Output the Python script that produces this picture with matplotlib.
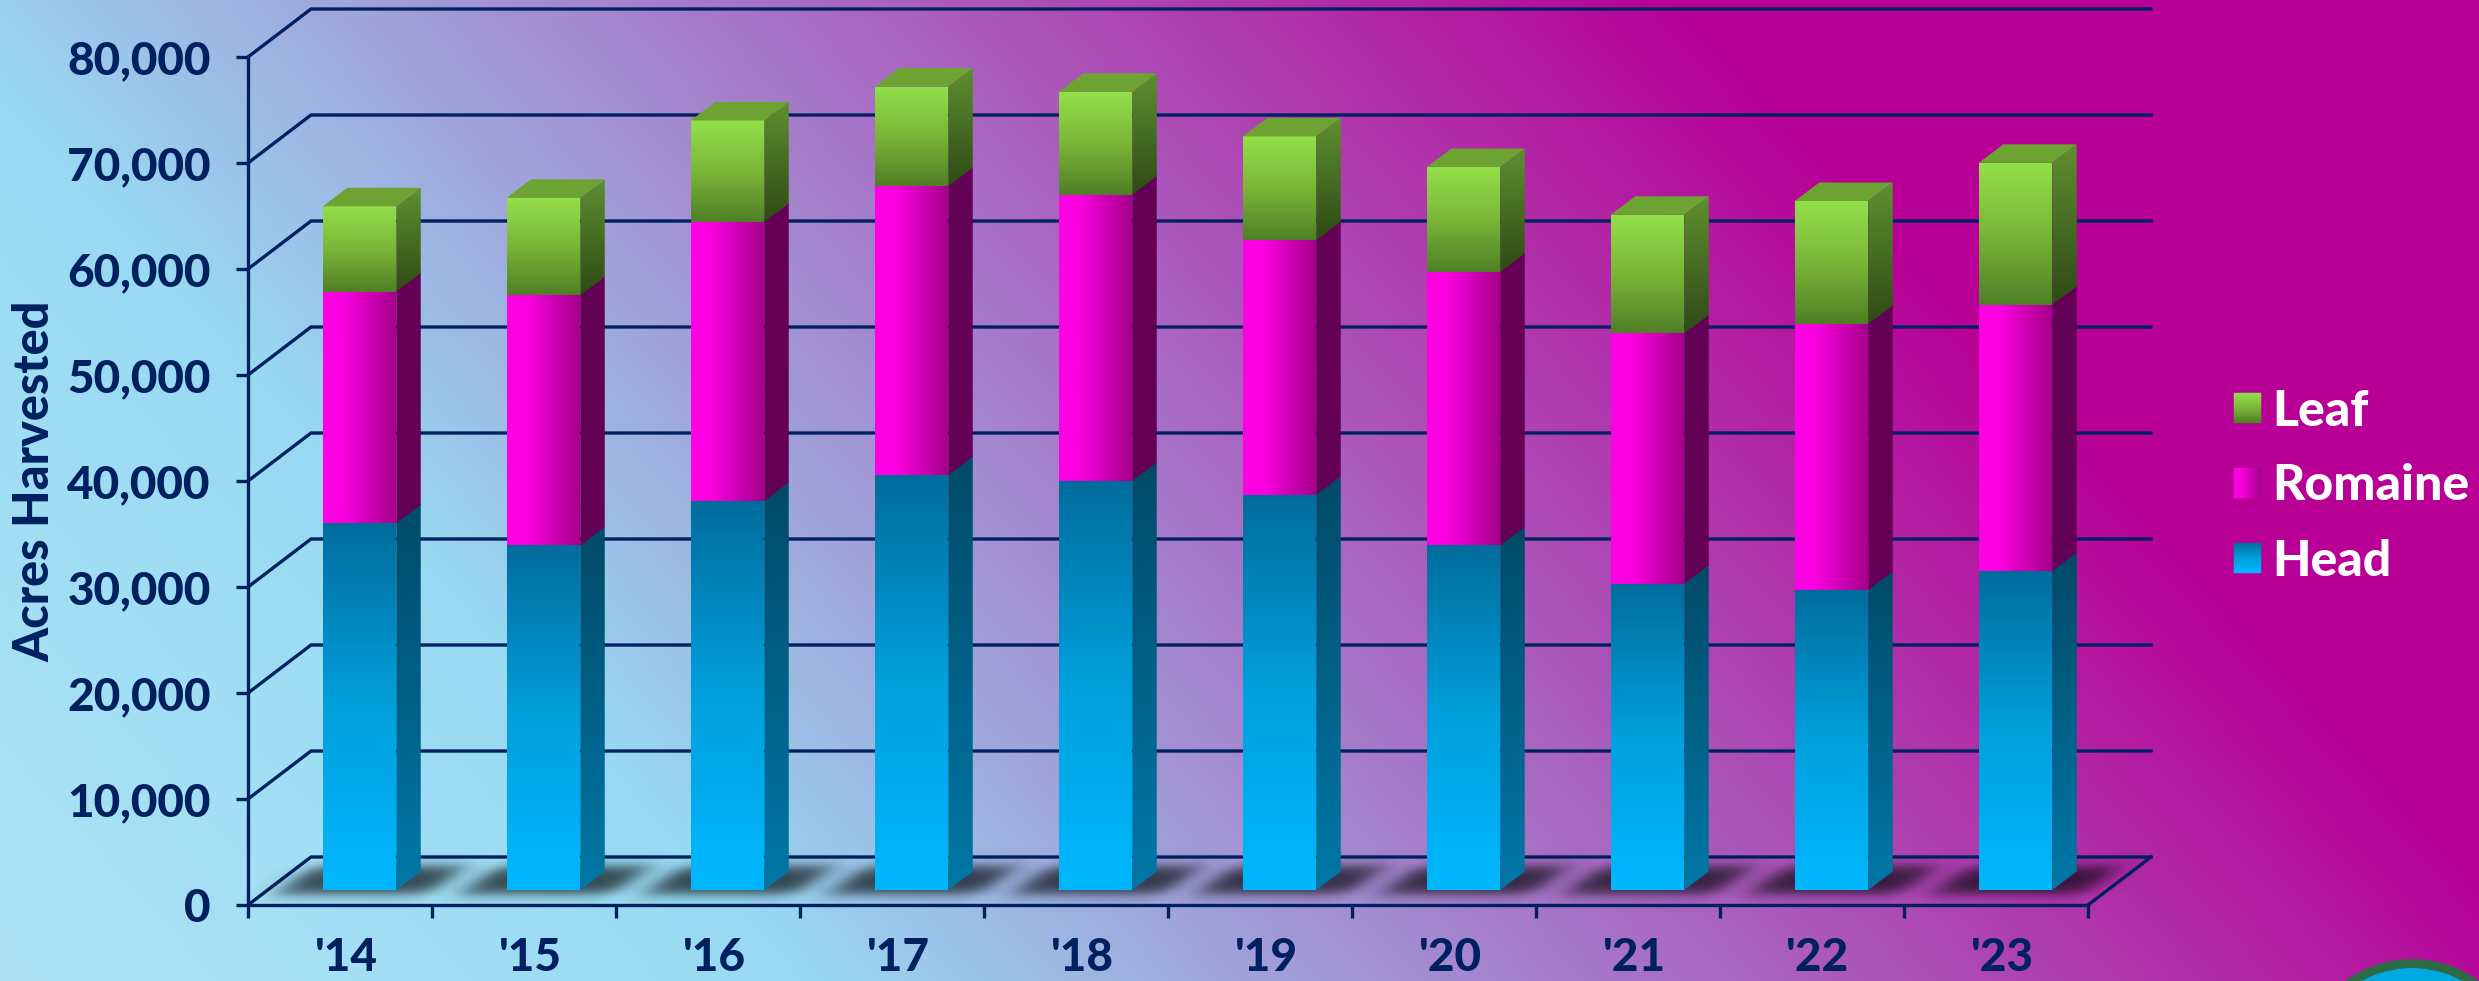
#!/usr/bin/env python3

import numpy as np
import matplotlib
matplotlib.use("Agg")
import matplotlib.pyplot as plt
from matplotlib.colors import LinearSegmentedColormap, to_rgb
from matplotlib.legend_handler import HandlerBase
from matplotlib.patches import Circle, Patch, Polygon, Rectangle
from matplotlib.ticker import FuncFormatter, MultipleLocator
from matplotlib.transforms import ScaledTranslation

plt.rcParams['font.family'] = ['Lato', 'DejaVu Sans']

years = ["'14", "'15", "'16", "'17", "'18", "'19", "'20", "'21", "'22", "'23"]
head = [34600, 32500, 36700, 39150, 38600, 37300, 32500, 28900, 28300, 30100]
romaine = [21850, 23600, 26300, 27250, 27000, 24000, 25800, 23600, 25100, 25100]
leaf = [8050, 9200, 9600, 9400, 9700, 9800, 9900, 11200, 11600, 13400]

NAVY = '#002060'
W, H = 2479, 981

# pixels per data unit, the chart is a fake 3D drawing
PX_X = 184.0
PX_Y = 106.0 / 10000
WALL_DX, WALL_DY = 63 / PX_X, 48 / PX_Y
BAR_X, BAR_Y = 19.5 / PX_X, 15 / PX_Y
BAR_W = 73.5 / PX_X
SIDE_DX, SIDE_DY = 24.5 / PX_X, 18.5 / PX_Y


def ramp(*stops):
    return LinearSegmentedColormap.from_list('r', list(stops))


head_front = ramp((0, '#00B8FF'), (0.5, '#00A0DC'), (1, '#006C9C'))
head_side = ramp((0, '#0078A8'), (1, '#004A68'))
romaine_front = ramp((0, '#FF00E6'), (0.3, '#F800DE'), (1, '#A4008A'))
romaine_side = ramp((0, '#640055'), (1, '#640055'))
leaf_front = ramp((0, '#4F7F25'), (0.5, '#7AB638'), (1, '#93E04A'))
leaf_side = ramp((0, '#2F4A14'), (1, '#5E9030'))

fig = plt.figure(figsize=(W / 100, H / 100), dpi=100)

# background
bg = fig.add_axes([0, 0, 1, 1], zorder=-1)
yy, xx = np.mgrid[0:H, 0:W]
t = 1.1 * xx - yy
stops = [-981, -100, 1850, 4000]
cols = np.array([to_rgb(c) for c in ['#AEE3F6', '#98DAF2', '#B80096', '#B80096']])
rgb = np.dstack([np.interp(t, stops, cols[:, i]) for i in range(3)])
bg.imshow(rgb, extent=(0, W, H, 0), aspect='auto')
bg.add_patch(Circle((2412, 1072), 108.5, fc='#00A8E0', ec='#2C6B45', lw=6.5))
bg.set_xlim(0, W)
bg.set_ylim(H, 0)
bg.axis('off')

ax = fig.add_axes([248 / W, (H - 905) / H, 1840 / W, 848 / H])
ax.patch.set_alpha(0)


def face(verts, cmap, horizontal=False, z=5):
    verts = np.array(verts)
    x0, y0 = verts.min(axis=0)
    x1, y1 = verts.max(axis=0)
    g = np.linspace(0, 1, 256)
    g = g[None, :] if horizontal else g[:, None]
    im = ax.imshow(g, cmap=cmap, vmin=0, vmax=1, origin='lower', aspect='auto',
                   extent=(x0, x1, y0, y1), zorder=z, interpolation='bilinear')
    poly = Polygon(verts, closed=True, transform=ax.transData)
    im.set_clip_path(poly)


def shadow(xc):
    # soft blob on the floor under a bar
    nx, ny = 340, 90
    px = np.linspace(-170, 170, nx)
    py = np.linspace(-45, 45, ny)
    gx, gy = np.meshgrid(px, py)
    u = gx - 1.31 * gy
    a = 0.25 * (1 - np.tanh((np.abs(u) - 76) / 15)) * (1 - np.tanh((np.abs(gy) - 14) / 7))
    img = np.zeros((ny, nx, 4))
    img[..., :3] = (0.02, 0.03, 0.04)
    img[..., 3] = 0.7 * a
    yc = 25 / PX_Y
    ax.imshow(img, origin='lower', aspect='auto', zorder=2, clip_on=False,
              extent=(xc + (11 - 170) / PX_X, xc + (11 + 170) / PX_X,
                      yc - 45 / PX_Y, yc + 45 / PX_Y))


# back wall, side wall and floor
for v in range(0, 90000, 10000):
    ax.plot([0, WALL_DX, 10 + WALL_DX], [v, v + WALL_DY, v + WALL_DY], color=NAVY,
            lw=2.4, clip_on=False, zorder=1, solid_joinstyle='miter')
ax.plot([10, 10 + WALL_DX], [0, WALL_DY], color=NAVY, lw=2.4, clip_on=False, zorder=1)

for i in range(len(years)):
    x0 = i + 0.5 - BAR_W / 2 + BAR_X
    x1 = x0 + BAR_W
    shadow(i + 0.5 + BAR_X)
    b0 = BAR_Y
    b1 = b0 + head[i]
    b2 = b1 + romaine[i]
    b3 = b2 + leaf[i]
    # lower segments run a pixel under the next one, that hides the seam
    lap = 1 / PX_Y
    segs = [(b0, b1 + lap, head_front, head_side, False),
            (b1, b2 + lap, romaine_front, romaine_side, True),
            (b2, b3, leaf_front, leaf_side, False)]
    for lo, hi, front, side, horiz in segs:
        face([(x0, lo), (x1, lo), (x1, hi), (x0, hi)], front, horizontal=horiz)
        face([(x1, lo), (x1 + SIDE_DX, lo + SIDE_DY), (x1 + SIDE_DX, hi + SIDE_DY), (x1, hi)], side)
    ax.add_patch(Polygon([(x0, b3), (x1, b3), (x1 + SIDE_DX, b3 + SIDE_DY), (x0 + SIDE_DX, b3 + SIDE_DY)],
                         closed=True, fc='#6DA332', ec='none', zorder=5))

ax.set_xlim(0, 10)
ax.set_ylim(0, 80000)
for s in ['top', 'right']:
    ax.spines[s].set_visible(False)
for s in ['left', 'bottom']:
    ax.spines[s].set_color(NAVY)
    ax.spines[s].set_linewidth(2.4)
    ax.spines[s].set_zorder(3)

ax.yaxis.set_major_locator(MultipleLocator(10000))
ax.yaxis.set_major_formatter(FuncFormatter(lambda v, p: f'{int(v):,}'))
ax.xaxis.set_major_locator(MultipleLocator(1))
ax.xaxis.set_major_formatter(FuncFormatter(lambda v, p: ''))
ax.set_xticks(np.arange(len(years)) + 0.5, years, minor=True)
ax.tick_params(axis='y', length=9, width=2.4, color=NAVY, pad=18, labelsize=33,
               labelcolor=NAVY)
ax.tick_params(axis='x', which='major', length=9, width=2.4, color=NAVY)
ax.tick_params(axis='x', which='minor', length=0, pad=23, labelsize=33, labelcolor=NAVY)
for lab in ax.get_yticklabels():
    lab.set_fontweight('black')
# year labels sit a little right of the tick centre
nudge = ScaledTranslation(6 / 100, 0, fig.dpi_scale_trans)
for lab in ax.get_xticklabels(minor=True):
    lab.set_fontweight('black')
    lab.set_transform(lab.get_transform() + nudge)

ax.set_ylabel('Acres Harvested', fontsize=35, fontweight='black', color=NAVY, va='center')
ax.yaxis.set_label_coords(35 / W, (H - 481) / H, transform=fig.transFigure)


class Swatch(HandlerBase):
    def __init__(self, cmap, horizontal=False):
        super().__init__()
        self.cmap = cmap
        self.horizontal = horizontal

    def create_artists(self, legend, orig_handle, xdescent, ydescent, width, height,
                       fontsize, trans):
        n = 27
        out = []
        for k in range(n):
            c = self.cmap((k + 0.5) / n)
            if self.horizontal:
                r = Rectangle((-xdescent + width * k / n, -ydescent), width / n, height, fc=c, ec=c,
                              lw=0.3, transform=trans)
            else:
                r = Rectangle((-xdescent, -ydescent + height * k / n), width, height / n, fc=c, ec=c,
                              lw=0.3, transform=trans)
            out.append(r)
        return out


labels = ['Leaf', 'Romaine', 'Head']
handles = [Patch(label=l) for l in labels]
leg = fig.legend(handles, labels, loc='center left', bbox_to_anchor=(2234 / W, (H - 486) / H),
                 frameon=False, borderpad=0, borderaxespad=0,
                 handlelength=0.54, handleheight=0.54, handletextpad=0.22, labelspacing=0.6,
                 labelcolor='white', prop={'size': 36, 'weight': 'black'},
                 handler_map={handles[0]: Swatch(leaf_front),
                              handles[1]: Swatch(romaine_front, horizontal=True),
                              handles[2]: Swatch(head_front)})

fig.savefig('out.png', dpi=100)
